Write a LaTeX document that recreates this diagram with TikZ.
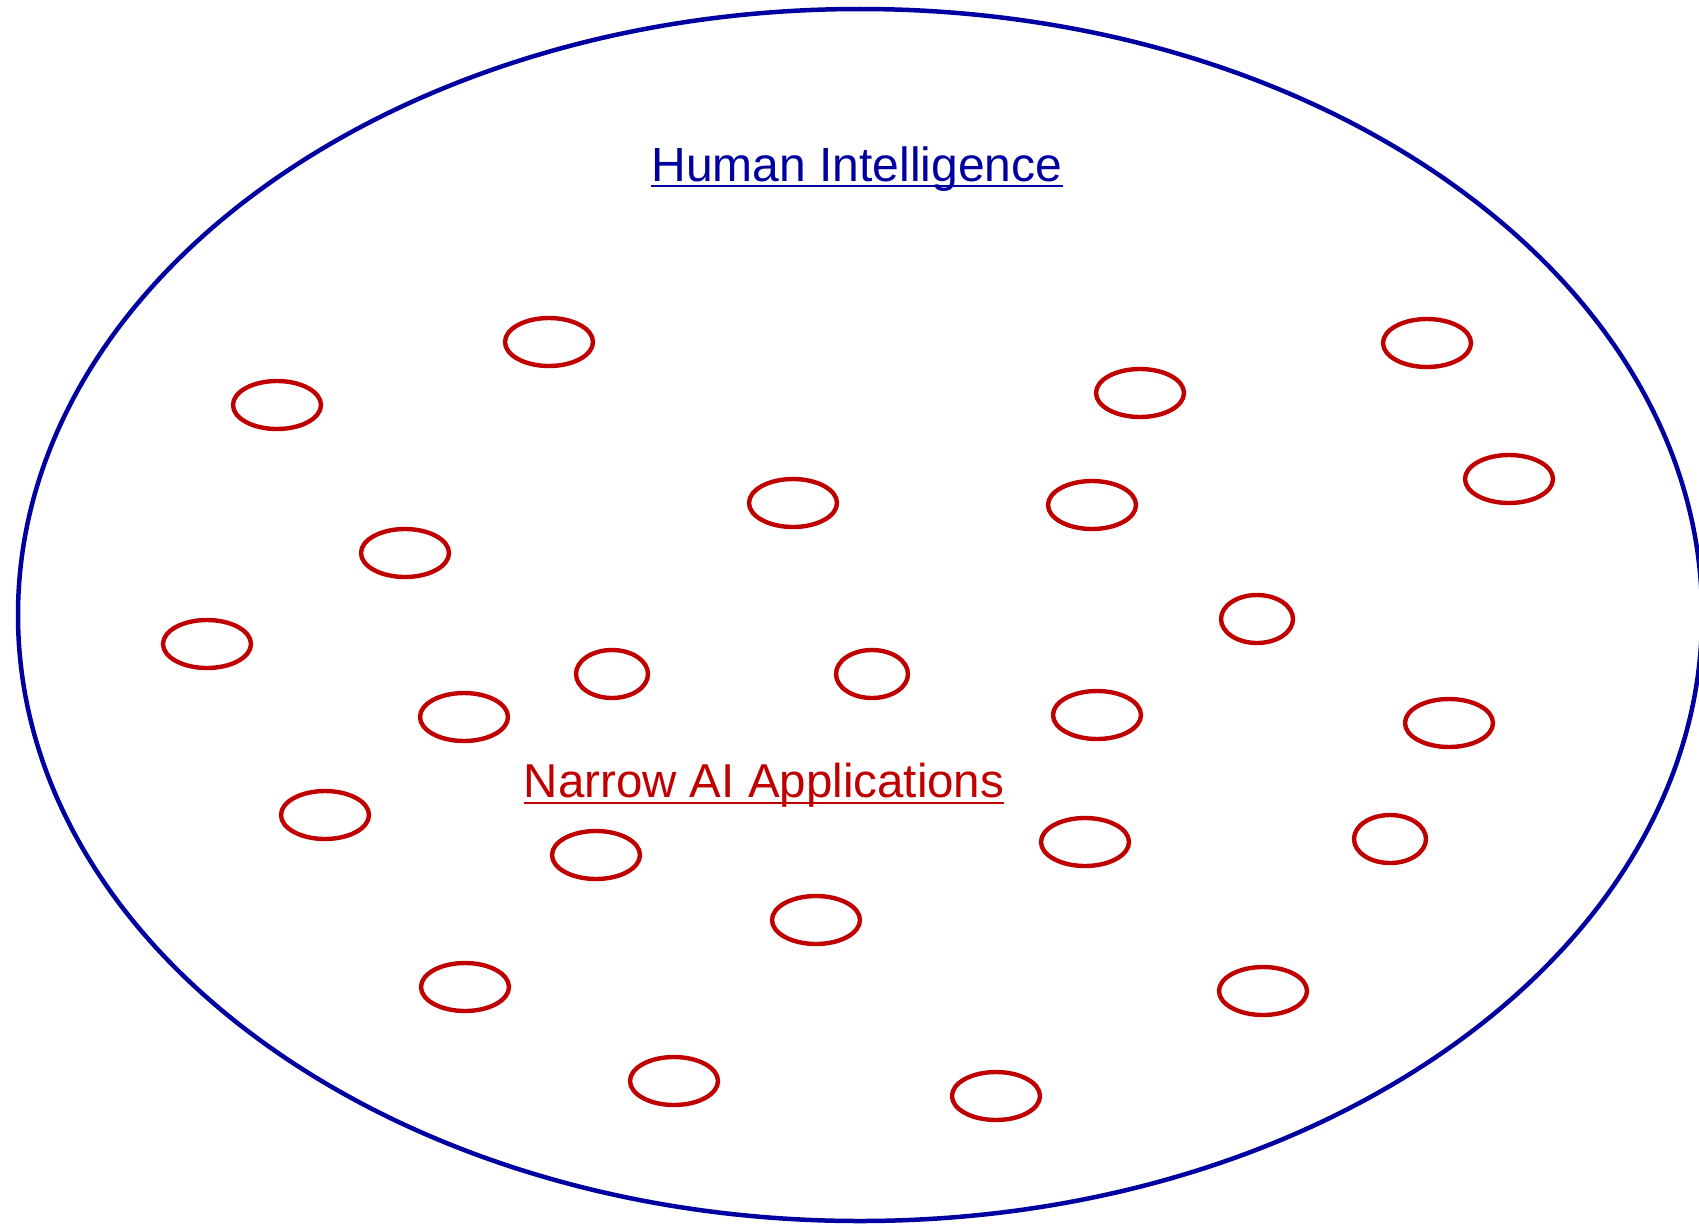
\documentclass[tikz,border=0pt]{standalone}
\usepackage{fontspec}
\setmainfont{Liberation Sans}
\usetikzlibrary{shapes.geometric}
\definecolor{hiblue}{RGB}{0,0,160}
\definecolor{aired}{RGB}{192,0,0}
\begin{document}
\begin{tikzpicture}[x=1pt,y=-1pt,
  app/.style={ellipse,draw=aired,line width=4.4pt,inner sep=0pt,minimum width=88pt,minimum height=48pt},
  appsmall/.style={app,minimum width=72pt,minimum height=48pt},
  lbl/.style={inner sep=0pt,anchor=base}]
\useasboundingbox (0,0) rectangle (1699,1223);
\fill[white] (0,0) rectangle (1699,1223);
\node[ellipse,draw=hiblue,line width=4.5pt,inner sep=0pt,minimum width=1684pt,minimum height=1212pt] (hi) at (860,615) {};
\node[lbl,text=hiblue,font=\fontsize{48}{56}\selectfont] (hit) at (857,181) {Human Intelligence};
\draw[hiblue,line width=2.5pt] ([yshift=-5pt]hit.base west) -- ([yshift=-5pt]hit.base east);
\node[lbl,text=aired,font=\fontsize{47.5}{55}\selectfont] (nat) at (764,797) {Narrow AI Applications};
\draw[aired,line width=2.5pt] ([yshift=-6pt]nat.base west) -- ([yshift=-6pt]nat.base east);
\node[app] (e1) at (549,342) {};
\node[app] (e2) at (277,405) {};
\node[app] (e3) at (1140,393) {};
\node[app] (e4) at (1427,343) {};
\node[app] (e5) at (793,503) {};
\node[app] (e6) at (1092,505) {};
\node[app] (e7) at (1509,479) {};
\node[app] (e8) at (405,553) {};
\node[appsmall] (e9) at (1257,619) {};
\node[app] (e10) at (207,644) {};
\node[appsmall] (e11) at (612,674) {};
\node[appsmall] (e12) at (872,674) {};
\node[app] (e13) at (464,717) {};
\node[app] (e14) at (1097,715) {};
\node[app] (e15) at (1449,723) {};
\node[app] (e16) at (325,815) {};
\node[app] (e17) at (596,855) {};
\node[app] (e18) at (1085,842) {};
\node[appsmall] (e19) at (1390,839) {};
\node[app] (e20) at (816,920) {};
\node[app] (e21) at (465,987) {};
\node[app] (e22) at (1263,991) {};
\node[app] (e23) at (674,1081) {};
\node[app] (e24) at (996,1096) {};
\end{tikzpicture}
\end{document}
